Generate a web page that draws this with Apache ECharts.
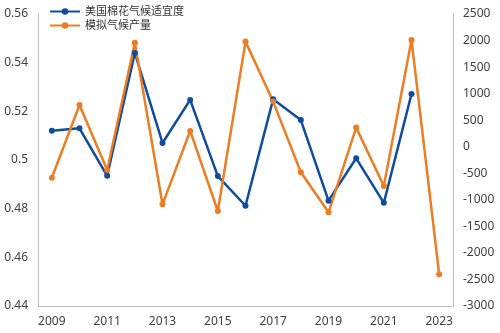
<!DOCTYPE html>
<html>
<head>
<meta charset="utf-8">
<script src="https://cdn.jsdelivr.net/npm/echarts@6/dist/echarts.min.js"></script>
<style>
html,body{margin:0;padding:0;background:#fff;}
#c{width:500px;height:333px;}
</style>
</head>
<body>
<div id="c"></div>
<script>
var years = ['2009','2010','2011','2012','2013','2014','2015','2016','2017','2018','2019','2020','2021','2022','2023'];
var suitName = '美国棉花气候适宜度';
var yieldName = '模拟气候产量';
var suitability = [0.512, 0.513, 0.4935, 0.544, 0.507, 0.5247, 0.4934, 0.4812, 0.525, 0.5164, 0.4833, 0.5007, 0.4824, 0.5271, null];
var climateYield = [-585, 786, -440, 1960, -1085, 297, -1210, 1980, 850, -482, -1235, 360, -740, 2010, -2400];

var font = 'Noto Sans, Noto Sans CJK SC, sans-serif';
var chart = echarts.init(document.getElementById('c'));
chart.setOption({
  animation: false,
  textStyle: {fontFamily: font},
  grid: {left: 38, right: 47, top: 14, bottom: 27, containLabel: false},
  legend: {
    orient: 'vertical', left: 44, top: 1, itemGap: 3,
    itemWidth: 30, itemHeight: 8,
    textStyle: {fontSize: 11, color: '#333', fontFamily: font},
    data: [suitName, yieldName]
  },
  xAxis: {
    type: 'category', data: years, boundaryGap: true,
    axisLine: {onZero: false, lineStyle: {color: '#BFBFBF'}},
    axisTick: {show: false},
    axisLabel: {interval: 1, color: '#404040', fontSize: 12, margin: 10}
  },
  yAxis: [{
    type: 'value', min: 0.44, max: 0.56, interval: 0.02,
    axisLine: {show: true, lineStyle: {color: '#BFBFBF'}},
    axisTick: {show: false}, splitLine: {show: false},
    axisLabel: {color: '#404040', fontSize: 12, margin: 10,
      formatter: function(v){ return String(Math.round(v*100)/100); }}
  }, {
    type: 'value', min: -3000, max: 2500, interval: 500,
    axisLine: {show: true, lineStyle: {color: '#BFBFBF'}},
    axisTick: {show: false}, splitLine: {show: false},
    axisLabel: {color: '#404040', fontSize: 12, margin: 10,
      formatter: function(v){ return String(v); }}
  }],
  series: [{
    name: suitName, type: 'line', yAxisIndex: 0, data: suitability,
    symbol: 'circle', symbolSize: 6,
    lineStyle: {width: 2.5, color: '#0F4C9F'},
    itemStyle: {color: '#0F4C9F'}
  }, {
    name: yieldName, type: 'line', yAxisIndex: 1, data: climateYield,
    symbol: 'circle', symbolSize: 6,
    lineStyle: {width: 2.5, color: '#ED7D23'},
    itemStyle: {color: '#ED7D23'}
  }]
});
</script>
</body>
</html>
